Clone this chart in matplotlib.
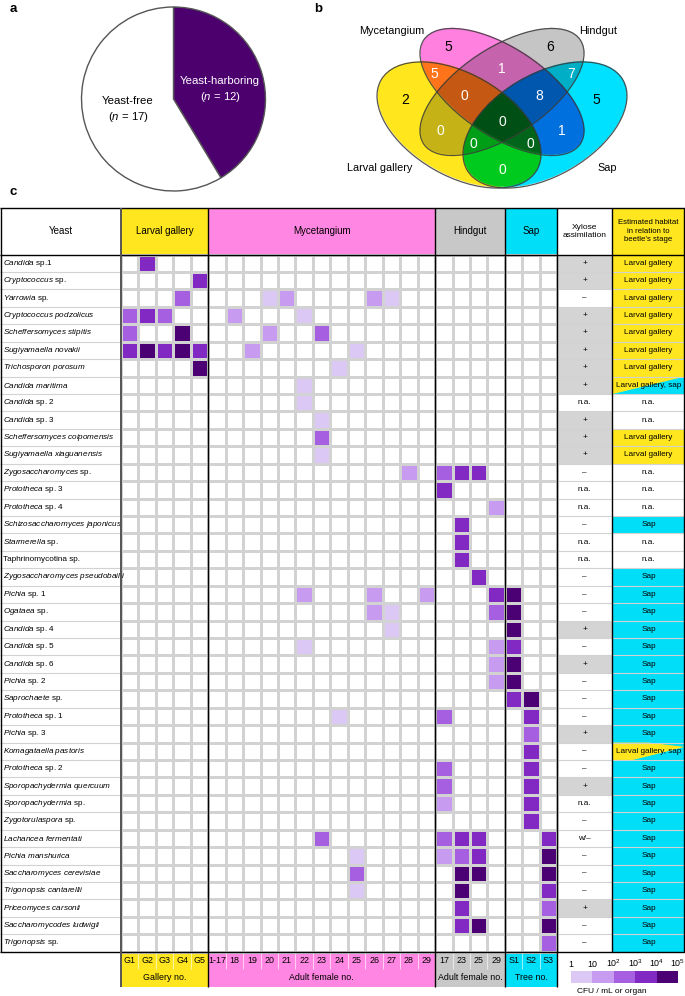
import numpy as np
import matplotlib
matplotlib.use("Agg")
import matplotlib.pyplot as plt
from matplotlib.colors import ListedColormap, BoundaryNorm, to_rgb
from matplotlib.patches import Rectangle, Ellipse, Polygon
from matplotlib.cm import ScalarMappable

plt.rcParams["font.family"] = ["Liberation Sans", "DejaVu Sans"]
plt.rcParams["mathtext.fontset"] = "custom"
plt.rcParams["mathtext.rm"] = "Liberation Sans"
plt.rcParams["mathtext.it"] = "Liberation Sans:italic"

# ---------------- data ----------------
pie_labels = ["Yeast-harboring", "Yeast-free"]
pie_counts = [12, 17]

venn_sets = ["Larval gallery", "Mycetangium", "Hindgut", "Sap"]
venn_regions = ["M", "H", "MH", "LM", "HS", "L", "LMH", "MHS", "S",
                "LMHS", "LH", "MS", "LHS", "LMS", "LS"]
venn_counts = [5, 6, 1, 5, 7, 2, 0, 8, 5, 0, 0, 1, 0, 0, 0]

groups = ["Larval gallery", "Mycetangium", "Hindgut", "Sap"]
group_ncols = [5, 13, 4, 3]
group_footer = ["Gallery no.", "Adult female no.", "Adult female no.", "Tree no."]
col_labels = ["G1", "G2", "G3", "G4", "G5",
              "1-17", "18", "19", "20", "21", "22", "23", "24", "25", "26", "27", "28", "29",
              "17", "23", "25", "29",
              "S1", "S2", "S3"]

# (italic part, roman part)
yeasts = [
    ("Candida", "sp.1"), ("Cryptococcus", "sp."), ("Yarrowia", "sp."),
    ("Cryptococcus podzolicus", ""), ("Scheffersomyces stipitis", ""),
    ("Sugiyamaella novakii", ""), ("Trichosporon porosum", ""),
    ("Candida maritima", ""), ("Candida", "sp. 2"), ("Candida", "sp. 3"),
    ("Scheffersomyces coipomensis", ""), ("Sugiyamaella xiaguanensis", ""),
    ("Zygosaccharomyces", "sp."), ("Prototheca", "sp. 3"), ("Prototheca", "sp. 4"),
    ("Schizosaccharomyces japonicus", ""), ("Starmerella", "sp."),
    ("", "Taphrinomycotina sp."), ("Zygosaccharomyces pseudobailii", ""),
    ("Pichia", "sp. 1"), ("Ogataea", "sp."), ("Candida", "sp. 4"),
    ("Candida", "sp. 5"), ("Candida", "sp. 6"), ("Pichia", "sp. 2"),
    ("Saprochaete", "sp."), ("Prototheca", "sp. 1"), ("Pichia", "sp. 3"),
    ("Komagataella pastoris", ""), ("Prototheca", "sp. 2"),
    ("Sporopachydermia quercuum", ""), ("Sporopachydermia", "sp."),
    ("Zygotorulaspora", "sp."), ("Lachancea fermentati", ""),
    ("Pichia manshurica", ""), ("Saccharomyces cerevisiae", ""),
    ("Trigonopsis cantarellii", ""), ("Priceomyces carsonii", ""),
    ("Saccharomycodes ludwigii", ""), ("Trigonopsis", "sp."),
]

# CFU level per sample: 0 none, 1: 1-10, 2: 10-10^2, ... 5: 10^4-10^5
# groups: larval gallery | mycetangium | hindgut | sap
cfu_levels = [
    "04000 0000000000000 0000 000",
    "00004 0000000000000 0000 000",
    "00030 0001200002100 0000 000",
    "34300 0200010000000 0000 000",
    "30050 0002003000000 0000 000",
    "45454 0020000010000 0000 000",
    "00005 0000000100000 0000 000",
    "00000 0000010000000 0000 000",
    "00000 0000010000000 0000 000",
    "00000 0000001000000 0000 000",
    "00000 0000003000000 0000 000",
    "00000 0000001000000 0000 000",
    "00000 0000000000020 3440 000",
    "00000 0000000000000 4000 000",
    "00000 0000000000000 0002 000",
    "00000 0000000000000 0400 000",
    "00000 0000000000000 0400 000",
    "00000 0000000000000 0400 000",
    "00000 0000000000000 0040 000",
    "00000 0000020002002 0004 500",
    "00000 0000000002100 0003 500",
    "00000 0000000000100 0000 500",
    "00000 0000010000000 0002 400",
    "00000 0000000000000 0002 500",
    "00000 0000000000000 0002 500",
    "00000 0000000000000 0000 450",
    "00000 0000000100000 3000 040",
    "00000 0000000000000 0000 030",
    "00000 0000000000000 0000 040",
    "00000 0000000000000 3000 040",
    "00000 0000000000000 3000 040",
    "00000 0000000000000 2000 040",
    "00000 0000000000000 0000 040",
    "00000 0000003000000 3440 004",
    "00000 0000000010000 2340 005",
    "00000 0000000030000 0550 005",
    "00000 0000000010000 0500 004",
    "00000 0000000000000 0400 003",
    "00000 0000000000000 0450 005",
    "00000 0000000000000 0000 003",
]

xylose = ["+", "+", "–", "+", "+", "+", "+", "+", "n.a.", "+",
          "+", "+", "–", "n.a.", "n.a.", "–", "n.a.", "n.a.", "–", "–",
          "–", "+", "–", "+", "–", "–", "–", "+", "–", "–",
          "+", "n.a.", "–", "w/–", "–", "–", "–", "+", "–", "–"]

habitat = ["LG"] * 7 + ["LG+S", "na", "na", "LG", "LG", "na", "na", "na", "S",
                        "na", "na"] + ["S"] * 10 + ["LG+S"] + ["S"] * 11

cfu_ticks = ["1", "10", r"$\mathregular{10^2}$", r"$\mathregular{10^3}$",
             r"$\mathregular{10^4}$", r"$\mathregular{10^5}$"]

# ---------------- style ----------------
C_YEL = "#ffe61e"
C_PINK = "#ff86e2"
C_GREY = "#c8c8c8"
C_CYAN = "#00def8"
C_XYL = "#d4d4d4"
level_colors = ["#dcc8f5", "#c79bf0", "#a65fe0", "#8228c3", "#4b0073"]
group_colors = [C_YEL, C_PINK, C_GREY, C_CYAN]

W, H = 685, 996
fig = plt.figure(figsize=(W / 100, H / 100), dpi=100)


def fx(x):
    return x / W


def fy(y):
    return 1 - y / H


ax = fig.add_axes([0, 0, 1, 1])
ax.set_xlim(0, W)
ax.set_ylim(H, 0)
ax.axis("off")

# panel letters
for lab, (x, y) in zip("abc", [(13, 9), (318, 9), (13, 192)]):
    fig.text(fx(x), fy(y), lab, fontsize=9.5, fontweight="bold", ha="center", va="center")

# ---------------- a: pie ----------------
R = 92
pcx, pcy = 173.5, 99
ax_pie = fig.add_axes([fx(pcx - 1.1 * R), fy(pcy + 1.1 * R), 2.2 * R / W, 2.2 * R / H])
ax_pie.pie(pie_counts, colors=["#4b006e", "white"], startangle=90, counterclock=False,
           wedgeprops=dict(edgecolor="#555555", linewidth=1.0))
ax_pie.set_xlim(-1.1, 1.1)
ax_pie.set_ylim(-1.1, 1.1)
fig.text(fx(220), fy(81.5), pie_labels[0], fontsize=8.2, color="white", ha="center", va="center")
fig.text(fx(220), fy(97.5), r"($\mathit{n}$ = %d)" % pie_counts[0], fontsize=8.2,
         color="white", ha="center", va="center")
fig.text(fx(128), fy(101), pie_labels[1], fontsize=8.2, ha="center", va="center")
fig.text(fx(128), fy(117), r"($\mathit{n}$ = %d)" % pie_counts[1], fontsize=8.2,
         ha="center", va="center")

# ---------------- b: venn ----------------
ax_v = fig.add_axes([fx(340), fy(200), 345 / W, 200 / H])
ax_v.set_xlim(340, 685)
ax_v.set_ylim(200, 0)
ax_v.axis("off")

ell = {  # centre x, centre y, semi-major, semi-minor, angle (pixel space)
    "L": (459, 125, 90, 51, 30),
    "M": (502, 92, 94, 44, 33.5),
    "H": (502, 92, 94, 44, -33.5),
    "S": (545, 125, 90, 51, -30),
}
ell_col = {"L": "#ffe61e", "M": "#ff80e0", "H": "#c6c6c6", "S": "#00e1ff"}

gx = np.arange(370, 636, 0.5)
gy = np.arange(20, 196, 0.5)
GX, GY = np.meshgrid(gx, gy)
rgb = np.ones(GX.shape + (3,))
alpha = np.zeros(GX.shape)
for k, (cx, cy, a, b, ang) in ell.items():
    t = np.deg2rad(ang)
    dx, dy = GX - cx, GY - cy
    u = dx * np.cos(t) + dy * np.sin(t)
    v = -dx * np.sin(t) + dy * np.cos(t)
    inside = (u / a) ** 2 + (v / b) ** 2 <= 1
    rgb[inside] *= np.array(to_rgb(ell_col[k]))
    alpha[inside] = 1
img = np.dstack([rgb, alpha])
ax_v.imshow(img, extent=(gx[0], gx[-1], gy[-1], gy[0]), origin="upper",
            interpolation="bilinear", zorder=1)
for k, (cx, cy, a, b, ang) in ell.items():
    ax_v.add_patch(Ellipse((cx, cy), 2 * a, 2 * b, angle=ang, fill=False,
                           edgecolor="#3a3a3a", linewidth=0.9, alpha=0.85, zorder=2))

venn_pos = [(448.5, 47), (550.5, 47), (502.3, 68.5), (434, 74), (570.7, 74),
            (405, 100), (464, 96), (539.5, 96), (596, 100), (502.3, 121.5),
            (440, 131), (562.3, 131), (473.3, 144), (530.7, 144), (502.3, 169.5)]
for reg, n, (x, y) in zip(venn_regions, venn_counts, venn_pos):
    col = "black" if len(reg) == 1 else "white"
    ax_v.text(x, y, str(n), fontsize=10, color=col, ha="center", va="center", zorder=3)
for name, (x, y) in zip(venn_sets, [(379.5, 167.5), (392, 30.5), (598, 30.5), (607.5, 167.5)]):
    ax_v.text(x, y, name, fontsize=7.8, ha="center", va="center", zorder=3)

# ---------------- c: table ----------------
TOP, HB = 208, 254.5
RH, CW = 17.43, 17.45
X0 = 121
n_rows = len(yeasts)
BOT = HB + RH * n_rows
XE = X0 + CW * len(col_labels)
XH = 612
FB = 987

ye = HB + RH * np.arange(n_rows + 1)
xe = X0 + CW * np.arange(len(col_labels) + 1)
group_edges = [X0]
for n in group_ncols:
    group_edges.append(group_edges[-1] + CW * n)

mat = np.array([[int(c) for c in s.replace(" ", "")] for s in cfu_levels])
cmap = ListedColormap(["white"] + level_colors)
norm = BoundaryNorm(np.arange(-0.5, 6.5, 1), cmap.N)
ax.pcolormesh(xe, ye, mat, cmap=cmap, norm=norm, edgecolors="#d2d2d2",
              linewidth=0.8, zorder=1)

# header
ax.add_patch(Rectangle((0, TOP), X0, HB - TOP, fc="white", ec="none", zorder=0))
for g, c, x0, x1 in zip(groups, group_colors, group_edges[:-1], group_edges[1:]):
    ax.add_patch(Rectangle((x0, TOP), x1 - x0, HB - TOP, fc=c, ec="none", zorder=0))
    ax.text((x0 + x1) / 2, (TOP + HB) / 2, g, fontsize=7, ha="center", va="center")
ax.add_patch(Rectangle((XH, TOP), W - XH, HB - TOP, fc=C_YEL, ec="none", zorder=0))
ax.text(X0 / 2, (TOP + HB) / 2, "Yeast", fontsize=7, ha="center", va="center")
ax.text((XE + XH) / 2, (TOP + HB) / 2, "Xylose\nassimilation", fontsize=6,
        ha="center", va="center", linespacing=1.3)
ax.text((XH + W) / 2, (TOP + HB) / 2, "Estimated habitat\nin relation to\nbeetle’s stage",
        fontsize=5.6, ha="center", va="center", linespacing=1.3)

# rows
for i, ((it, rm), xy, hb) in enumerate(zip(yeasts, xylose, habitat)):
    y0, y1 = ye[i], ye[i + 1]
    ym = (y0 + y1) / 2
    label = ""
    if it:
        label = r"$\mathit{" + it.replace(" ", r"\ ") + "}$"
    if rm:
        label = (label + " " + rm).strip()
    ax.text(3, ym, label, fontsize=5.9, ha="left", va="center", zorder=3)
    if xy == "+":
        ax.add_patch(Rectangle((XE, y0), XH - XE, RH, fc=C_XYL, ec="none", zorder=0))
    ax.text((XE + XH) / 2, ym, xy, fontsize=5.9, ha="center", va="center", zorder=3)
    if hb == "LG":
        ax.add_patch(Rectangle((XH, y0), W - XH, RH, fc=C_YEL, ec="none", zorder=0))
        txt = "Larval gallery"
    elif hb == "S":
        ax.add_patch(Rectangle((XH, y0), W - XH, RH, fc=C_CYAN, ec="none", zorder=0))
        txt = "Sap"
    elif hb == "LG+S":
        ax.add_patch(Rectangle((XH, y0), W - XH, RH, fc=C_CYAN, ec="none", zorder=0))
        if i < n_rows / 2:
            pts = [(XH, y0), (W, y0), (XH + 1, y1)]
        else:
            pts = [(XH, y0), (XH + 36, y0), (W, y0 + 0.25 * RH), (XH + 21, y1), (XH, y1)]
        ax.add_patch(Polygon(pts, closed=True, fc=C_YEL, ec="none", zorder=0))
        txt = "Larval gallery, sap"
    else:
        txt = "n.a."
    ax.text((XH + W) / 2, ym, txt, fontsize=5.9, ha="center", va="center", zorder=3)

ax.hlines(ye[1:-1], 0, X0, color="#d2d2d2", linewidth=0.8, zorder=2)
ax.hlines(ye[1:-1], XE, W, color="#d2d2d2", linewidth=0.8, zorder=2)

# footer
for g, c, x0, x1 in zip(group_footer, group_colors, group_edges[:-1], group_edges[1:]):
    ax.add_patch(Rectangle((x0, BOT), x1 - x0, FB - BOT, fc=c, ec="none", zorder=0))
    ax.text((x0 + x1) / 2, 977.5, g, fontsize=6.4, ha="center", va="center")
for j, lab in enumerate(col_labels):
    ax.text((xe[j] + xe[j + 1]) / 2, 960.5, lab, fontsize=6.4, ha="center", va="center")
ax.vlines(xe[1:-1], BOT, 969, color="white", linewidth=0.8, alpha=0.6, zorder=1)

# frame lines
ax.hlines([TOP, HB, BOT], 0, W, color="black", linewidth=1.0, zorder=4)
ax.vlines([0.5, W - 0.5], TOP, BOT, color="black", linewidth=1.0, zorder=4)
ax.vlines(X0, TOP, FB, color="#555555", linewidth=1.4, zorder=4)
ax.vlines(group_edges[1:], TOP, FB, color="black", linewidth=1.0, zorder=4)
ax.vlines(XH, TOP, BOT, color="black", linewidth=1.0, zorder=4)

# colour key
cax = fig.add_axes([fx(571), fy(983), 107 / W, 12 / H])
sm = ScalarMappable(norm=BoundaryNorm(np.arange(6), 5), cmap=ListedColormap(level_colors))
cb = fig.colorbar(sm, cax=cax, orientation="horizontal")
cb.set_ticks(np.arange(6))
cb.set_ticklabels(cfu_ticks)
cb.outline.set_visible(False)
cax.xaxis.set_ticks_position("top")
cax.tick_params(length=0, pad=1.5, labelsize=6.4)
fig.text(fx(612), fy(991), "CFU / mL or organ", fontsize=6, ha="center", va="center")

fig.savefig("out.png", dpi=100)
